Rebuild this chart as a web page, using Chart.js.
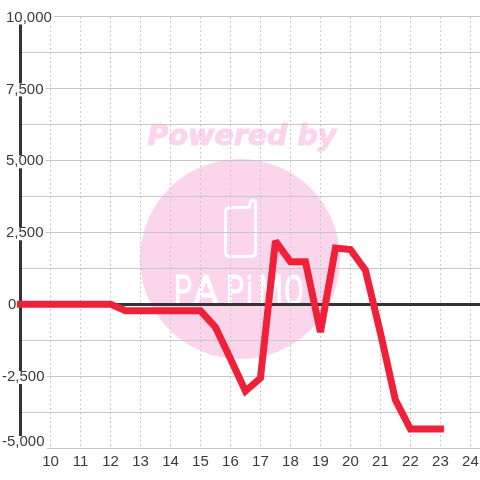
<!DOCTYPE html>
<html><head><meta charset="utf-8">
<style>html,body{margin:0;padding:0;background:#fff}#w{width:480px;height:480px}</style>
<script src="https://cdn.jsdelivr.net/npm/chart.js@4"></script></head>
<body><div id="w"><canvas id="c" width="480" height="480"></canvas></div>
<script>
const hours = [9,9.5,10,10.5,11,11.5,12,12.5,13,13.5,14,14.5,15,15.5,16,16.5,17,17.5,18,18.5,19,19.5,20,20.5,21,21.5,22,22.5,23];
const values = [0,0,0,0,0,0,0,-230,-230,-230,-230,-230,-230,-800,-1900,-3020,-2570,2190,1475,1475,-970,1950,1900,1180,-1000,-3330,-4340,-4340,-4340];
const xTicks = [10,11,12,13,14,15,16,17,18,19,20,21,22,23,24];
const yTicks = [-5000,-3750,-2500,-1250,0,1250,2500,3750,5000,6250,7500,8750,10000];
const yLabelled = [-5000,-2500,0,2500,5000,7500,10000];
const brandLetters = ['P','A','P','i','M','O'];
const brandLeft = [174,193,226,246,258,284];

const watermark = {
  id:'watermark',
  beforeDraw(chart){
    const c = chart.ctx; c.save();
    c.fillStyle='#fbd5ec'; c.strokeStyle='#fbd5ec';
    c.beginPath(); c.arc(240,259,100,0,Math.PI*2); c.fill();
    c.font='italic bold 28.5px "DejaVu Sans"'; c.textAlign='center'; c.textBaseline='alphabetic';
    c.lineWidth=1; c.lineJoin='round';
    c.fillText('Powered by',242,145);
    c.strokeText('Powered by',242,145);
    c.strokeStyle='#fff'; c.lineWidth=3;
    c.beginPath();
    c.moveTo(231,207.5); c.lineTo(249,207.5); c.lineTo(251,201); c.quadraticCurveTo(255.5,199,255.5,203);
    c.lineTo(255.5,252); c.quadraticCurveTo(255.5,256.5,251,256.5); c.lineTo(230,256.5);
    c.quadraticCurveTo(225.5,256.5,225.5,252); c.lineTo(225.5,212); c.quadraticCurveTo(225.5,207.5,231,207.5);
    c.closePath(); c.stroke();
    c.fillStyle='#fff'; c.font='42px Roboto'; c.textAlign='left'; c.lineWidth=1;
    brandLetters.forEach((l,i)=>{
      c.save(); c.translate(brandLeft[i],305); c.scale(l==='A'?0.95:0.68,1);
      c.fillText(l,0,0); c.strokeText(l,0,0); c.restore();
    });
    c.restore();
  },
  beforeDatasetsDraw(chart){ chart.ctx.save(); chart.ctx.miterLimit=2; },
  afterDatasetsDraw(chart){ chart.ctx.restore(); }
};
const labelFix = {
  id:'labelFix',
  beforeDraw(chart){
    const s = chart.scales.y;
    s.getLabelItems(chart.chartArea).forEach(it=>{
      if(it.fixed) return; it.fixed=true;
      const t=String(it.label);
      if(t===''){ it.options.backdrop=undefined; return; }
      const last = t==='-5,000';
      it.options.translation[0]+= t.startsWith('-')?-4:(t==='0'?2:0);
      it.options.translation[1]+= last?-6:1;
      const w=chart.ctx; w.save(); w.font='15px "Liberation Sans"';
      const tw=w.measureText(t).width; w.restore();
      const tx=it.options.translation[0];
      it.options.backdrop={left:-tx,top:-6,width:tx+tw+2,height:13,color:'#fff'};
    });
  }
};
new Chart(document.getElementById('c'),{
  type:'line',
  data:{labels:hours,datasets:[{data:hours.map((h,i)=>({x:h,y:values[i]})),
    borderColor:'#ef2037',borderWidth:7,borderCapStyle:'square',borderJoinStyle:'miter',
    pointRadius:0,tension:0,clip:false,fill:false}]},
  options:{
    responsive:false,animation:false,devicePixelRatio:1,
    layout:{padding:{left:20.5,right:0,top:16.5,bottom:0}},
    plugins:{legend:{display:false},tooltip:{enabled:false}},
    scales:{
      x:{type:'linear',min:9,max:24.32,
        afterBuildTicks(s){s.ticks=xTicks.map(v=>({value:v}));},
        afterFit(s){s.height=32;s.paddingLeft=0;s.paddingRight=0;},
        grid:{color:'#c8c8c8',lineWidth:1,drawTicks:false},
        border:{display:false,dash:[2,2.5]},
        ticks:{autoSkip:false,maxRotation:0,padding:5,color:'#3a3a3a',font:{family:'"Liberation Sans"',size:15},callback:v=>String(v)}},
      y:{type:'linear',min:-5000,max:10000,position:'left',
        afterBuildTicks(s){s.ticks=yTicks.map(v=>({value:v}));},
        afterFit(s){s.width=0;s.paddingTop=0;s.paddingBottom=0;},
        grid:{drawTicks:false,color:c=>c.tick&&c.tick.value===0?'#333':'#c8c8c8',lineWidth:c=>c.tick&&c.tick.value===0?3:1},
        border:{display:true,color:'#333',width:3},
        ticks:{autoSkip:false,mirror:true,padding:-14.5,color:'#3a3a3a',showLabelBackdrop:true,backdropColor:'#fff',
          font:{family:'"Liberation Sans"',size:15},
          callback:v=>yLabelled.includes(v)?v.toLocaleString('en-US'):''}}
    }
  },
  plugins:[watermark,labelFix]
});
</script></body></html>
